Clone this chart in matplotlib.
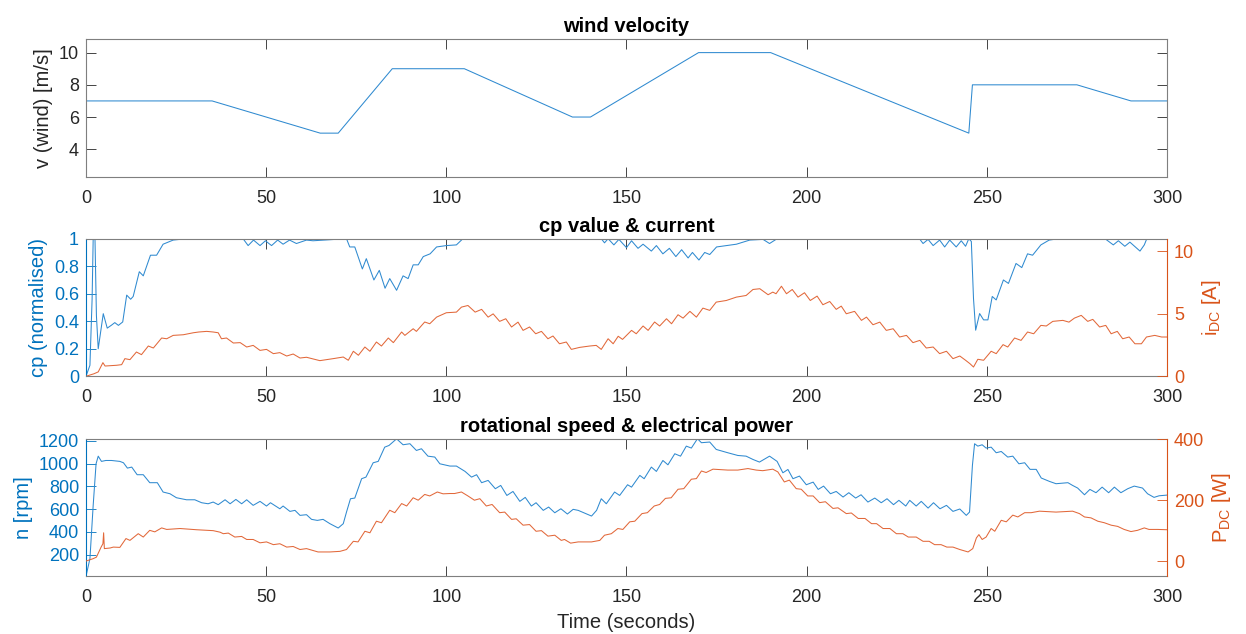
import numpy as np
import matplotlib
matplotlib.use("Agg")
from matplotlib import pyplot as plt

plt.rcParams['font.family'] = ['Liberation Sans', 'DejaVu Sans']
plt.rcParams['mathtext.fontset'] = 'custom'
plt.rcParams['mathtext.rm'] = 'Liberation Sans'
plt.rcParams['mathtext.it'] = 'Liberation Sans:italic'

blue = "#0072BD"
orange = "#D95319"
grey = "#262626"
line_blue = "#2F8AD0"
line_orange = "#E2683A"

# wind velocity [m/s]
t_wind = [0, 35, 65, 70, 85, 105, 135, 140, 170, 190, 245, 246, 275, 290, 300]
v_wind = [7, 7, 5, 5, 9, 9, 6, 6, 10, 10, 5, 8, 8, 7, 7]

# cp (normalised)
t_cp = [0, 1.1, 1.7, 2.0, 2.5, 2.9, 3.4, 4.8, 5.9, 7.0, 8.0, 9.0, 10.2, 11.3, 12.4, 13.1,
        14.8, 15.9, 17.9, 19.6, 21.4, 24.2, 27.9, 43.6, 45.0, 46.5, 48.3, 49.8, 51.5, 53.2,
        54.7, 56.5, 58.4, 61.2, 63.0, 72.3, 73.2, 74.6, 76.7, 77.8, 79.9, 81.4, 83.0, 84.3,
        86.2, 88.0, 89.4, 90.8, 92.2, 93.6, 95.5, 97.3, 100.0, 102.8, 104.6, 143.0, 143.9,
        144.9, 146.5, 147.9, 150.0, 151.4, 153.2, 154.6, 156.9, 158.3, 160.1, 161.9, 163.7,
        165.3, 167.1, 168.3, 170.1, 171.7, 173.1, 175.0, 180.5, 184.2, 187.9, 189.7, 191.5,
        231.3, 232.3, 233.7, 235.1, 236.9, 238.3, 239.7, 241.5, 242.9, 244.1, 245.0, 245.7,
        246.3, 246.9, 248.0, 249.1, 250.3, 251.5, 252.6, 254.6, 256.0, 258.1, 259.7, 261.3,
        262.7, 265.0, 267.3, 270.0, 282.8, 285.1, 286.5, 288.3, 289.7, 292.5, 293.7, 294.4, 300]
cp = [0, 0.08, 0.56, 1.0, 1.0, 0.44, 0.2, 0.455, 0.35, 0.37, 0.39, 0.37, 0.395, 0.59, 0.56, 0.58,
      0.76, 0.73, 0.88, 0.88, 0.96, 0.99, 1.0, 1.0, 0.95, 0.99, 0.95, 0.985, 0.95, 0.99,
      0.96, 0.99, 0.965, 0.99, 0.985, 1.0, 0.94, 0.94, 0.78, 0.855, 0.70, 0.77, 0.64, 0.71,
      0.625, 0.73, 0.71, 0.81, 0.81, 0.87, 0.89, 0.94, 0.95, 0.955, 1.0, 1.0, 0.97,
      1.0, 0.955, 0.995, 0.935, 0.985, 0.93, 0.96, 0.91, 0.95, 0.89, 0.93, 0.87,
      0.92, 0.86, 0.90, 0.845, 0.90, 0.885, 0.94, 0.96, 0.99, 0.995, 0.965, 0.995,
      1.0, 0.965, 0.995, 0.95, 0.99, 0.94, 0.99, 0.94, 0.985, 0.945, 1.0, 0.98,
      0.565, 0.335, 0.456, 0.41, 0.41, 0.58, 0.555, 0.70, 0.675, 0.82, 0.79, 0.89,
      0.88, 0.955, 0.99, 1.0, 1.0, 0.955, 0.985, 0.945, 0.975, 0.91, 0.955, 1.0, 1.0]

# DC current [A]
t_idc = [0, 1.1, 2.2, 3.4, 4.7, 5.3, 7.0, 8.5, 9.9, 10.8, 12.2, 14.0, 15.4, 17.3, 18.7, 21.0,
         22.4, 24.2, 27.0, 29.8, 31.3, 33.5, 35.3, 36.7, 37.6, 39.0, 40.9, 42.8, 44.6, 46.4,
         48.3, 50.1, 52.0, 53.8, 55.7, 57.5, 59.4, 61.2, 64.9, 66.8, 68.6, 71.4, 72.8, 74.2,
         75.6, 77.4, 78.8, 80.6, 82.0, 83.9, 85.3, 87.6, 88.5, 90.8, 91.7, 94.0, 95.4, 97.3,
         100.0, 102.8, 104.2, 106.0, 108.0, 109.8, 111.6, 113.0, 114.8, 116.5, 118.1, 119.9,
         121.3, 123.1, 124.8, 126.4, 128.2, 129.6, 131.4, 133.3, 134.7, 137.0, 139.8, 141.6,
         143.0, 144.9, 146.3, 147.7, 148.9, 151.4, 152.7, 154.6, 156.0, 157.8, 159.2, 161.1,
         162.5, 164.3, 165.7, 167.6, 169.4, 171.2, 173.1, 174.9, 177.7, 180.5, 183.2, 185.1,
         187.0, 189.3, 190.6, 191.5, 193.0, 194.4, 196.0, 197.6, 199.4, 201.0, 202.9, 204.5,
         206.4, 208.2, 209.6, 211.0, 213.3, 215.2, 216.6, 218.4, 220.3, 222.1, 224.0, 225.8,
         227.7, 229.5, 231.4, 233.2, 235.1, 236.9, 238.8, 240.6, 242.5, 244.1, 245.3, 246.3,
         247.5, 249.1, 251.2, 252.6, 254.5, 255.8, 257.7, 259.5, 261.3, 263.0, 265.0, 266.5,
         268.3, 271.1, 272.8, 274.3, 276.2, 278.0, 279.4, 281.3, 283.0, 284.5, 286.2, 287.7,
         289.5, 291.1, 292.9, 294.3, 296.6, 298.5, 300]
i_dc = [0, 0.1, 0.2, 0.35, 1.09, 0.82, 0.85, 0.88, 0.93, 1.41, 1.33, 1.94, 1.73, 2.42, 2.26, 3.06,
        3.0, 3.27, 3.32, 3.48, 3.54, 3.59, 3.54, 3.48, 3.0, 3.06, 2.66, 2.69, 2.34, 2.47,
        2.07, 2.15, 1.81, 1.89, 1.62, 1.78, 1.46, 1.52, 1.25, 1.33, 1.41, 1.54, 1.28, 2.0,
        1.68, 2.34, 2.0, 2.74, 2.42, 3.06, 2.69, 3.54, 3.27, 3.8, 3.59, 4.34, 4.2, 4.73,
        5.08, 5.13, 5.53, 5.66, 5.13, 5.35, 4.73, 4.99, 4.39, 4.6, 3.94, 4.33,
        3.67, 3.94, 3.40, 3.59, 3.0, 3.22, 2.6, 2.74, 2.15, 2.31, 2.42, 2.47,
        2.15, 3.0, 2.6, 3.2, 2.95, 3.67, 3.40, 4.02, 3.67, 4.34, 4.02, 4.6,
        4.2, 4.92, 4.65, 5.19, 4.73, 5.45, 5.27, 5.93, 6.06, 6.33, 6.46, 6.94,
        7.0, 6.52, 6.73, 6.6, 7.2, 6.6, 6.94, 6.33, 6.68, 6.06, 6.41, 5.72,
        5.98, 5.35, 5.61, 5.0, 5.19, 4.47, 4.73, 4.12, 4.33, 3.67, 3.8, 3.14,
        3.27, 2.69, 2.87, 2.26, 2.34, 1.81, 2.0, 1.41, 1.62, 1.28, 1.01, 0.74,
        1.36, 1.28, 2.0, 1.81, 2.53, 2.34, 3.06, 2.87, 3.54, 3.4, 4.07, 4.02,
        4.39, 4.47, 4.33, 4.65, 4.87, 4.39, 4.55, 3.94, 4.07, 3.40, 3.59, 3.0,
        3.14, 2.6, 2.6, 3.14, 3.27, 3.14, 3.14]

# rotational speed [rpm]
t_n = [0, 1.1, 2.0, 2.8, 3.4, 4.3, 5.5, 7.1, 9.4, 10.4, 11.5, 12.7, 14.2, 15.9, 17.7, 19.8,
       21.4, 23.3, 25.1, 27.9, 30.2, 32.1, 33.9, 35.3, 36.7, 38.6, 40.0, 41.6, 43.2, 44.6,
       46.4, 48.3, 50.1, 51.2, 53.8, 54.7, 56.6, 58.0, 59.4, 61.2, 62.6, 64.2, 65.8, 67.7,
       70.0, 71.4, 72.3, 73.4, 74.6, 76.5, 77.7, 79.7, 81.1, 82.9, 84.1, 86.2, 88.0, 89.9,
       91.7, 93.1, 94.9, 96.8, 98.2, 101.0, 102.8, 105.2, 107.0, 108.4, 109.8, 111.6, 113.6,
       115.1, 116.8, 118.5, 120.4, 121.9, 123.6, 124.9, 126.9, 128.4, 130.1, 131.8, 133.6,
       135.2, 136.6, 140.3, 141.7, 143.0, 144.4, 146.7, 148.1, 150.3, 151.4, 153.7, 154.9,
       156.9, 158.3, 160.1, 161.5, 163.4, 165.0, 166.6, 168.0, 169.7, 170.8, 173.1, 174.9,
       178.1, 180.9, 183.2, 185.1, 186.9, 189.7, 191.8, 193.4, 194.8, 196.2, 198.0, 199.9,
       201.8, 203.2, 204.7, 206.6, 208.2, 210.1, 211.7, 213.6, 215.1, 217.0, 218.9, 220.7,
       222.3, 224.1, 225.6, 227.5, 228.6, 230.4, 231.8, 233.7, 235.2, 237.0, 238.8, 240.6,
       242.5, 244.3, 245.2, 246.0, 246.6, 247.5, 248.7, 249.8, 251.2, 252.6, 254.0, 255.8,
       257.2, 258.9, 260.5, 262.0, 263.7, 265.1, 267.4, 269.2, 272.5, 273.8, 275.2, 277.1,
       278.6, 280.3, 282.0, 283.8, 285.4, 287.2, 289.1, 290.9, 293.2, 294.6, 296.4, 297.8,
       299.8, 300]
n_rpm = [10, 165, 633, 998, 1065, 1019, 1027, 1027, 1019, 1007, 960, 969, 902, 902, 832, 832,
         750, 735, 700, 682, 682, 656, 647, 662, 639, 682, 647, 685, 647, 682,
         633, 668, 627, 656, 603, 627, 580, 589, 545, 551, 510, 501, 510, 472,
         434, 472, 574, 691, 697, 867, 881, 1007, 1019, 1144, 1159, 1217, 1165, 1174,
         1115, 1130, 1065, 1057, 998, 978, 978, 931, 881, 902, 832, 852, 779,
         808, 720, 755, 668, 703, 627, 656, 589, 618, 568, 603, 557,
         598, 589, 539, 589, 691, 647, 750, 720, 814, 793, 896, 867,
         969, 931, 1027, 989, 1086, 1065, 1153, 1136, 1218, 1183, 1189, 1124,
         1095, 1071, 1065, 1036, 1013, 1065, 1019, 919, 948, 867, 890, 814,
         837, 773, 802, 735, 755, 706, 744, 697, 726, 662, 697, 656,
         691, 639, 677, 627, 677, 627, 668, 609, 656, 603, 633, 580,
         601, 545, 574, 984, 1174, 1153, 1165, 1136, 1144, 1095, 1106, 1057,
         1065, 998, 1007, 949, 949, 873, 843, 823, 832, 808, 785, 726,
         773, 744, 793, 744, 793, 744, 779, 802, 785, 735, 703, 717,
         723, 723]

# electrical power [W]
t_p = [0, 2.0, 2.9, 4.2, 4.7, 4.9, 5.1, 6.7, 7.6, 9.4, 11.1, 12.2, 14.5, 15.9, 17.7, 19.1,
       21.0, 22.4, 26.1, 30.7, 35.3, 37.2, 38.1, 39.5, 41.3, 43.2, 44.6, 46.4, 48.3, 50.1,
       52.0, 53.8, 55.7, 57.5, 59.4, 61.2, 64.4, 67.7, 70.5, 72.3, 74.2, 75.5, 77.4, 78.8,
       80.6, 82.0, 84.3, 85.7, 87.6, 89.0, 90.8, 92.2, 94.0, 95.4, 97.5, 99.1, 101.0, 102.3,
       104.2, 106.0, 107.8, 109.3, 111.1, 112.7, 114.8, 116.2, 118.1, 119.4, 121.3, 123.1,
       124.9, 126.4, 128.2, 130.1, 131.9, 132.8, 134.5, 136.6, 140.3, 142.6, 143.9, 145.8,
       147.6, 149.0, 150.9, 152.3, 154.3, 155.8, 157.7, 159.2, 160.8, 162.4, 164.3, 165.9,
       168.0, 169.4, 170.8, 172.1, 174.0, 178.1, 180.9, 183.7, 186.0, 187.8, 190.6, 192.0,
       193.8, 195.2, 197.1, 198.5, 200.3, 201.8, 203.6, 205.2, 207.3, 208.7, 211.0, 212.4,
       214.3, 216.2, 218.0, 219.4, 221.2, 223.1, 224.9, 226.7, 228.2, 230.4, 232.3, 234.0,
       235.5, 237.3, 238.9, 240.6, 242.5, 244.8, 246.1, 247.1, 247.8, 248.7, 249.8, 251.2,
       252.2, 254.0, 255.4, 257.2, 258.6, 260.5, 262.3, 264.6, 269.2, 273.8, 275.7, 277.1,
       278.9, 280.8, 282.6, 284.5, 286.3, 288.1, 290.0, 291.8, 293.7, 295.0, 297.4, 299.8, 300]
p_dc = [0, 8, 13, 46, 57, 93, 41, 43, 46, 45, 74, 68, 90, 79, 101, 96,
        109, 104, 107, 103, 100, 95, 90, 92, 79, 81, 71, 71, 60, 63,
        54, 57, 46, 48, 38, 41, 30, 30, 32, 38, 65, 63, 98, 93,
        131, 126, 167, 159, 189, 181, 208, 200, 219, 214, 227, 221, 222, 222,
        227, 214, 200, 205, 181, 186, 159, 161, 137, 139, 118, 120,
        98, 100, 82, 85, 68, 71, 59, 63, 63, 68, 85, 90,
        107, 104, 129, 131, 156, 159, 181, 186, 206, 208, 236, 238,
        269, 271, 296, 291, 302, 299, 299, 304, 299, 297, 302, 293,
        260, 266, 238, 236, 214, 214, 192, 195, 173, 175, 156, 158,
        140, 140, 123, 123, 107, 107, 90, 90, 79, 79, 65, 65,
        54, 54, 46, 46, 38, 30, 41, 76, 87, 71, 79, 107,
        98, 134, 129, 151, 145, 159, 159, 164, 161, 164, 156, 145,
        142, 131, 126, 118, 114, 104, 97, 101, 109, 104, 104, 103, 103]

x_ticks = [0, 50, 100, 150, 200, 250, 300]


def frame(ax):
    ax.set_xlim(0, 300)
    ax.set_xticks(x_ticks)
    ax.tick_params(axis='x', direction='in', length=7.5, width=0.6, top=True,
                   colors=grey, labelsize=13, pad=9)
    for s in ax.spines.values():
        s.set_color("#7f7f7f")
        s.set_linewidth(0.8)


fig = plt.figure(figsize=(12.46, 6.34), dpi=100)

# wind velocity
ax1 = fig.add_axes([0.069, 0.7204, 0.8676, 0.2177])
ax1.plot(t_wind, v_wind, color=line_blue, lw=0.75)
frame(ax1)
ax1.set_ylim(2.26, 10.83)
ax1.set_yticks([4, 6, 8, 10])
ax1.tick_params(axis='y', direction='in', length=7.5, width=0.6, right=True,
                colors=grey, labelsize=13, pad=5)
ax1.set_ylabel("v (wind) [m/s]", fontsize=14.5, color=grey)
ax1.set_title("wind velocity", fontsize=14.5, fontweight='bold', pad=5)

# cp value & current
ax2 = fig.add_axes([0.069, 0.4065, 0.8676, 0.2170])
ax2.plot(t_cp, cp, color=line_blue, lw=0.75)
frame(ax2)
ax2.set_ylim(0, 1)
ax2.set_yticks([0, 0.2, 0.4, 0.6, 0.8, 1])
ax2.set_yticklabels(["0", "0.2", "0.4", "0.6", "0.8", "1"])
ax2.tick_params(axis='y', direction='in', length=7.5, width=0.6, colors=blue,
                labelsize=13, pad=5)
ax2.spines['left'].set_color(blue)
ax2.spines['right'].set_visible(False)
ax2.set_ylabel("cp (normalised)", fontsize=14.5, color=blue)
ax2.set_title("cp value & current", fontsize=14.5, fontweight='bold', pad=5)
ax2r = ax2.twinx()
ax2r.plot(t_idc, i_dc, color=line_orange, lw=0.75)
ax2r.set_ylim(0, 11)
ax2r.set_yticks([0, 5, 10])
ax2r.tick_params(axis='y', direction='in', length=7.5, width=0.6, colors=orange,
                 labelsize=13, pad=5)
for k in ['left', 'top', 'bottom']:
    ax2r.spines[k].set_visible(False)
ax2r.spines['right'].set_color(orange)
ax2r.spines['right'].set_linewidth(0.8)
ax2r.set_ylabel(r"$\mathregular{i_{DC}}$ [A]", fontsize=14.5, color=orange)

# rotational speed & electrical power
ax3 = fig.add_axes([0.069, 0.0910, 0.8676, 0.2170])
ax3.plot(t_n, n_rpm, color=line_blue, lw=0.75)
frame(ax3)
ax3.set_ylim(10, 1218)
ax3.set_yticks([200, 400, 600, 800, 1000, 1200])
ax3.tick_params(axis='y', direction='in', length=7.5, width=0.6, colors=blue,
                labelsize=13, pad=5)
ax3.spines['left'].set_color(blue)
ax3.spines['right'].set_visible(False)
ax3.set_ylabel("n [rpm]", fontsize=14.5, color=blue)
ax3.set_title("rotational speed & electrical power", fontsize=14.5, fontweight='bold', pad=5)
ax3.set_xlabel("Time (seconds)", fontsize=14.5, color=grey, labelpad=5)
ax3r = ax3.twinx()
ax3r.plot(t_p, p_dc, color=line_orange, lw=0.75)
ax3r.set_ylim(-50, 402)
ax3r.set_yticks([0, 200, 400])
ax3r.tick_params(axis='y', direction='in', length=7.5, width=0.6, colors=orange,
                 labelsize=13, pad=5)
for k in ['left', 'top', 'bottom']:
    ax3r.spines[k].set_visible(False)
ax3r.spines['right'].set_color(orange)
ax3r.spines['right'].set_linewidth(0.8)
ax3r.set_ylabel(r"$\mathregular{P_{DC}}$ [W]", fontsize=14.5, color=orange)

fig.savefig("out.png", dpi=100)
